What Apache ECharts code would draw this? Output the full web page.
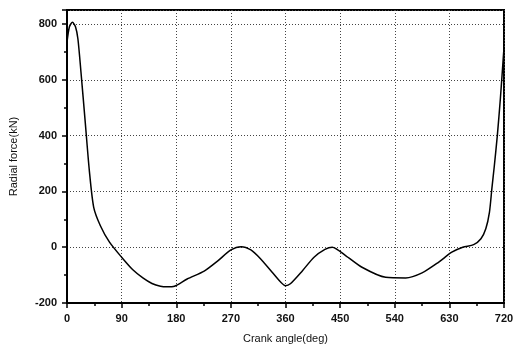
<!DOCTYPE html>
<html>
<head>
<meta charset="utf-8">
<script src="https://cdn.jsdelivr.net/npm/echarts@6/dist/echarts.min.js"></script>
<style>
  html, body { margin: 0; padding: 0; background: #fff; }
  #chart { width: 517px; height: 350px; }
</style>
</head>
<body>
<div id="chart"></div>
<script>
  // crank angle (deg) and radial force (kN)
  const angles = [0, 4, 9, 14, 18, 23, 30, 37, 44, 55, 70, 90, 108, 125, 140, 154, 165, 177, 198, 226, 248, 270, 287, 303, 318, 338, 352, 360, 368, 388, 407, 425, 437, 459, 486, 525, 558, 585, 612, 634, 652, 670, 682, 690, 696, 700, 704, 709, 714, 720];
  const forces = [735, 790, 806, 790, 746, 628, 449, 270, 143, 77, 18, -36, -80, -110, -130, -140, -142, -140, -114, -86, -50, -10, 2, -10, -40, -90, -125, -138, -131, -84, -36, -8, 0, -30, -72, -108, -110, -92, -54, -18, 0, 9, 30, 66, 125, 210, 290, 400, 532, 715];

  const xTicks = [0, 90, 180, 270, 360, 450, 540, 630, 720];
  const yTicks = [-200, 0, 200, 400, 600, 800];

  const chart = echarts.init(document.getElementById('chart'));

  const labelFont = {
    fontFamily: 'Liberation Sans',
    fontSize: 11,
    fontWeight: 'bold',
    color: '#111',
  };
  const gridLine = {
    show: true,
    lineStyle: { color: '#444', width: 1, type: [1, 2] },
  };

  chart.setOption({
    animation: false,
    grid: {
      left: 66,
      right: 13,
      top: 10,
      bottom: 47,
      show: true,
      borderColor: '#000',
      borderWidth: 2,
    },
    xAxis: {
      type: 'value',
      min: xTicks[0],
      max: xTicks[xTicks.length - 1],
      interval: 90,
      name: 'Crank angle(deg)',
      nameLocation: 'middle',
      nameGap: 30,
      nameTextStyle: { ...labelFont, fontWeight: 'normal', fontSize: 11 },
      axisLine: { onZero: false, lineStyle: { color: '#000', width: 2 } },
      axisTick: { show: true, length: 5, lineStyle: { color: '#000', width: 1.5 } },
      minorTick: { show: true, splitNumber: 2, length: 3, lineStyle: { color: '#000', width: 1.5 } },
      axisLabel: { ...labelFont, margin: 10 },
      splitLine: gridLine,
    },
    yAxis: {
      type: 'value',
      min: yTicks[0],
      max: 850,
      interval: 200,
      name: 'Radial force(kN)',
      nameLocation: 'middle',
      nameGap: 48,
      nameTextStyle: { ...labelFont, fontWeight: 'normal', fontSize: 11 },
      axisLine: { show: true, lineStyle: { color: '#000', width: 2 } },
      axisTick: { show: true, length: 5, lineStyle: { color: '#000', width: 1.5 } },
      minorTick: { show: true, splitNumber: 2, length: 3, lineStyle: { color: '#000', width: 1.5 } },
      axisLabel: { ...labelFont, margin: 10, showMaxLabel: false },
      splitLine: gridLine,
    },
    series: [
      {
        type: 'line',
        data: angles.map((a, i) => [a, forces[i]]),
        showSymbol: false,
        smooth: 0.25,
        lineStyle: { color: '#000', width: 1.5 },
      },
    ],
  });
</script>
</body>
</html>
